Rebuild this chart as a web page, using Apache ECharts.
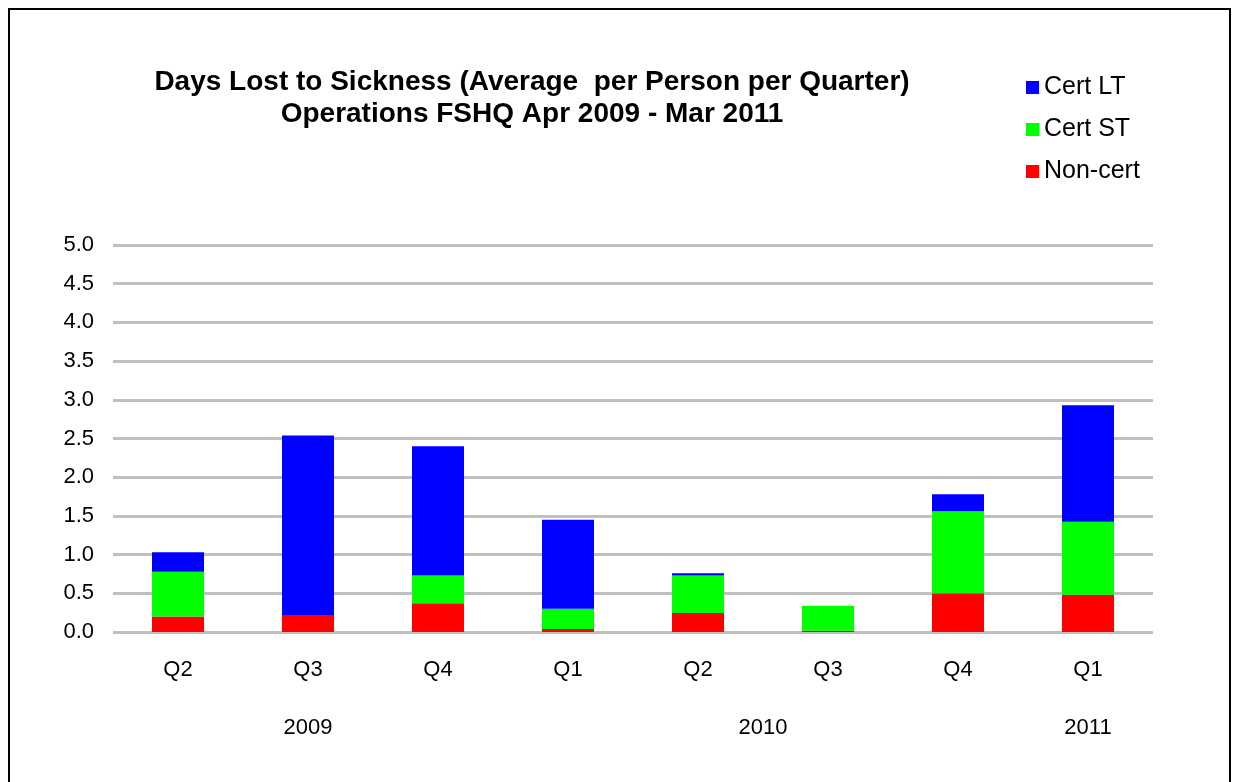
<!DOCTYPE html>
<html>
<head>
<meta charset="utf-8">
<script src="https://cdn.jsdelivr.net/npm/echarts@6/dist/echarts.min.js"></script>
<style>
html,body{margin:0;padding:0;background:#fff;}
#c{width:1234px;height:782px;}
</style>
</head>
<body>
<div id="c"></div>
<script>
var categories = ['Q2','Q3','Q4','Q1','Q2','Q3','Q4','Q1'];
var yearLabels = ['2009','2010','2011'];
var yearSpans = [3,4,1];
var nonCert = [0.20, 0.22, 0.37, 0.04, 0.245, 0.015, 0.50, 0.48];
var certST  = [0.58, 0.00, 0.36, 0.26, 0.485, 0.325, 1.06, 0.945];
var certLT  = [0.25, 2.32, 1.67, 1.15, 0.03, 0.00, 0.22, 1.505];
var yTicks = {min: 0, max: 5, interval: 0.5};

// year label positions (center of each span, in category units)
var yearPos = {};
var acc = 0;
for (var i = 0; i < yearLabels.length; i++) {
  yearPos[(acc + yearSpans[i] / 2).toFixed(1)] = yearLabels[i];
  acc += yearSpans[i];
}

var font = 'Liberation Sans, Arial, sans-serif';
var chart = echarts.init(document.getElementById('c'));
chart.setOption({
  animation: false,
  backgroundColor: '#fff',
  title: {
    text: 'Days Lost to Sickness (Average  per Person per Quarter)\nOperations FSHQ Apr 2009 - Mar 2011',
    left: 527, top: 61, textAlign: 'center',
    textStyle: {fontFamily: font, fontSize: 28, fontWeight: 'bold', color: '#000', lineHeight: 32}
  },
  legend: {
    data: ['Cert LT','Cert ST','Non-cert'],
    orient: 'vertical', left: 1021, top: 70,
    itemWidth: 13, itemHeight: 13, itemGap: 17, itemTextGap: 6,
    icon: 'rect',
    textStyle: {fontFamily: font, fontSize: 25, color: '#000'}
  },
  grid: {left: 113, right: 81, top: 245, bottom: 150},
  xAxis: [{
    type: 'category', data: categories,
    axisLine: {show: false}, axisTick: {show: false},
    axisLabel: {fontFamily: font, fontSize: 22, color: '#000', margin: 27}
  }, {
    type: 'value', min: 0, max: categories.length, interval: 0.5,
    position: 'bottom',
    axisLine: {show: false}, axisTick: {show: false}, splitLine: {show: false},
    axisLabel: {
      fontFamily: font, fontSize: 22, color: '#000', margin: 85,
      showMinLabel: true, showMaxLabel: true,
      formatter: function (v) { return yearPos[v.toFixed(1)] || ''; }
    }
  }],
  yAxis: {
    type: 'value', min: yTicks.min, max: yTicks.max, interval: yTicks.interval,
    axisLine: {show: false}, axisTick: {show: false},
    axisLabel: {fontFamily: font, fontSize: 22, color: '#000', margin: 19,
      formatter: function (v) { return v.toFixed(1); }},
    splitLine: {lineStyle: {color: '#c0c0c0', width: 3}}
  },
  series: [
    {name: 'Non-cert', type: 'bar', stack: 's', data: nonCert, barWidth: '40%',
     itemStyle: {color: '#ff0000'}},
    {name: 'Cert ST', type: 'bar', stack: 's', data: certST,
     itemStyle: {color: '#00ff00'}},
    {name: 'Cert LT', type: 'bar', stack: 's', data: certLT,
     itemStyle: {color: '#0000ff'}}
  ],
  graphic: [{
    type: 'rect', silent: true,
    shape: {x: 9, y: 9, width: 1221, height: 800},
    style: {fill: 'none', stroke: '#000', lineWidth: 2}
  }]
});
</script>
</body>
</html>
